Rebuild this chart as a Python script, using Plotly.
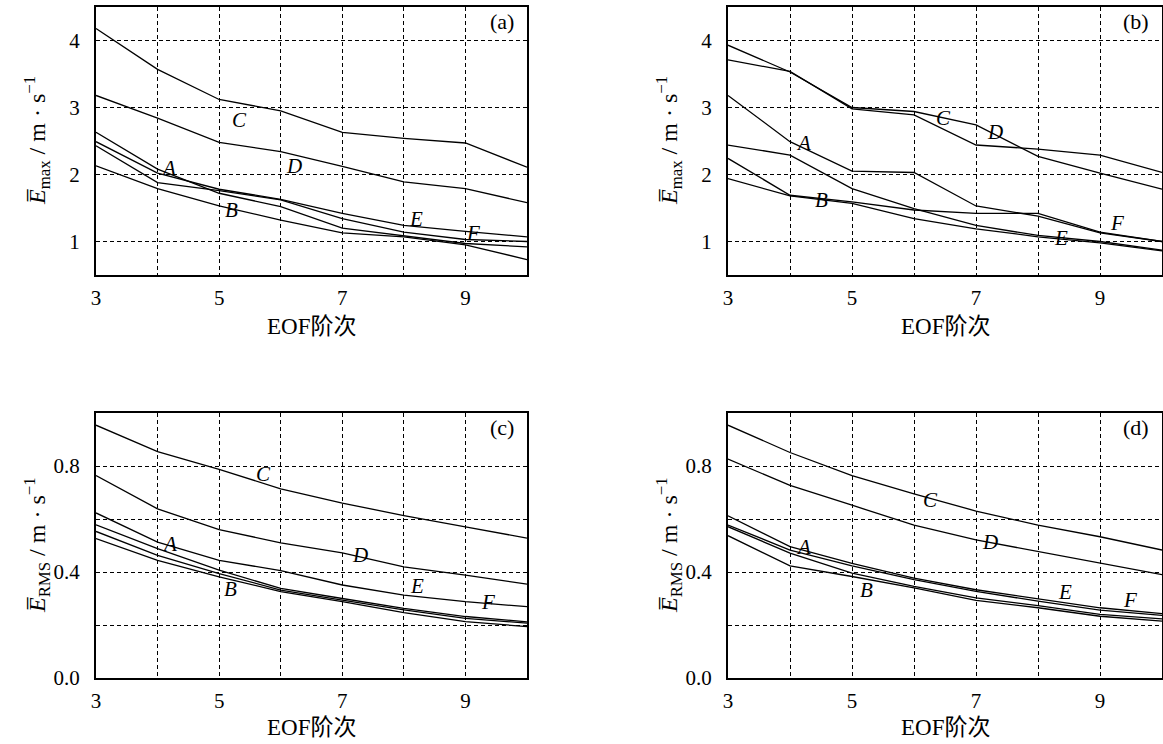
import plotly.graph_objects as go

orders = [3, 4, 5, 6, 7, 8, 9, 10]
x_tick_vals = [3, 5, 7, 9]
x_tick_text = ["3", "5", "7", "9"]
x_minor_vals = [4, 6, 8, 10]
ymax_tick_vals = [1, 2, 3, 4]
ymax_tick_text = ["1", "2", "3", "4"]
yrms_tick_vals = [0.0, 0.4, 0.8]
yrms_tick_text = ["0.0", "0.4", "0.8"]
yrms_minor_vals = [0.2, 0.6, 1.0]
curve_names = ["A", "B", "C", "D", "E", "F"]

# panel (a): mean maximum error
a_A = [2.63, 2.08, 1.72, 1.52, 1.20, 1.09, 0.97, 0.92]
a_B = [2.13, 1.79, 1.53, 1.32, 1.13, 1.07, 0.95, 0.73]
a_C = [4.18, 3.57, 3.12, 2.95, 2.63, 2.54, 2.47, 2.11]
a_D = [3.18, 2.84, 2.48, 2.34, 2.12, 1.89, 1.79, 1.58]
a_E = [2.49, 2.02, 1.78, 1.63, 1.42, 1.24, 1.15, 1.07]
a_F = [2.43, 1.88, 1.76, 1.62, 1.34, 1.14, 1.03, 1.00]

# panel (b): mean maximum error
b_A = [3.18, 2.49, 2.05, 2.03, 1.53, 1.38, 1.13, 1.00]
b_B = [1.94, 1.68, 1.57, 1.34, 1.19, 1.07, 0.98, 0.86]
b_C = [3.93, 3.53, 3.00, 2.94, 2.74, 2.27, 2.02, 1.78]
b_D = [3.71, 3.54, 2.98, 2.89, 2.44, 2.38, 2.29, 2.03]
b_E = [2.44, 2.29, 1.79, 1.49, 1.24, 1.09, 1.00, 0.87]
b_F = [2.24, 1.69, 1.59, 1.47, 1.42, 1.42, 1.14, 1.00]

# panel (c): mean RMS error
c_A = [0.578, 0.488, 0.407, 0.338, 0.300, 0.263, 0.232, 0.212]
c_B = [0.526, 0.444, 0.382, 0.326, 0.288, 0.247, 0.213, 0.194]
c_C = [0.954, 0.854, 0.787, 0.714, 0.660, 0.613, 0.570, 0.528]
c_D = [0.764, 0.638, 0.560, 0.510, 0.472, 0.419, 0.388, 0.354]
c_E = [0.623, 0.513, 0.444, 0.405, 0.351, 0.313, 0.288, 0.269]
c_F = [0.553, 0.463, 0.394, 0.332, 0.294, 0.257, 0.225, 0.207]

# panel (d): mean RMS error
d_A = [0.612, 0.496, 0.433, 0.377, 0.333, 0.298, 0.265, 0.243]
d_B = [0.537, 0.423, 0.383, 0.340, 0.293, 0.265, 0.233, 0.215]
d_C = [0.954, 0.851, 0.764, 0.695, 0.630, 0.577, 0.533, 0.483]
d_D = [0.826, 0.727, 0.652, 0.577, 0.521, 0.477, 0.433, 0.390]
d_E = [0.577, 0.483, 0.423, 0.371, 0.327, 0.290, 0.256, 0.236]
d_F = [0.571, 0.471, 0.396, 0.346, 0.302, 0.273, 0.240, 0.223]

# curve label positions (data coords) per panel
labels_a = {"A": (4.18, 2.10), "B": (5.2, 1.47), "C": (5.33, 2.82), "D": (6.22, 2.12), "E": (8.2, 1.34), "F": (9.12, 1.13)}
labels_b = {"A": (4.22, 2.47), "B": (4.5, 1.62), "C": (6.47, 2.84), "D": (7.31, 2.64), "E": (8.37, 1.05), "F": (9.27, 1.28)}
labels_c = {"A": (4.2, 0.505), "B": (5.18, 0.335), "C": (5.72, 0.77), "D": (7.29, 0.463), "E": (8.22, 0.347), "F": (9.36, 0.285)}
labels_d = {"A": (4.22, 0.496), "B": (5.23, 0.333), "C": (6.26, 0.673), "D": (7.22, 0.514), "E": (8.43, 0.323), "F": (9.49, 0.293)}

W, H = 1163, 744
FONT = "Liberation Serif, Noto Sans CJK SC, serif"
def px_x(p):
    return p / W
def px_y(p):
    return 1 - p / H

panels = [
    ("x", "y", [a_A, a_B, a_C, a_D, a_E, a_F], labels_a, "(a)"),
    ("x2", "y2", [b_A, b_B, b_C, b_D, b_E, b_F], labels_b, "(b)"),
    ("x3", "y3", [c_A, c_B, c_C, c_D, c_E, c_F], labels_c, "(c)"),
    ("x4", "y4", [d_A, d_B, d_C, d_D, d_E, d_F], labels_d, "(d)"),
]

fig = go.Figure()
annotations = []
for xa, ya, series, labels, tag in panels:
    for name, vals in zip(curve_names, series):
        fig.add_trace(go.Scatter(x=orders, y=vals, mode="lines", xaxis=xa, yaxis=ya,
                                 line=dict(color="black", width=1.3), showlegend=False,
                                 name=name))
    for name, (lx, ly) in labels.items():
        annotations.append(dict(x=lx, y=ly, xref=xa, yref=ya, text="<i>%s</i>" % name,
                                xanchor="center", yanchor="middle",
                                showarrow=False, font=dict(family=FONT, size=21, color="black")))
    annotations.append(dict(x=0.975, y=0.945, xref=xa + " domain", yref=ya + " domain",
                            text=tag, showarrow=False, xanchor="right", yanchor="middle",
                            font=dict(family=FONT, size=22, color="black")))

left_dom = [px_x(96), px_x(527)]
right_dom = [px_x(728), px_x(1162)]
top_dom = [px_y(275), px_y(7)]
bot_dom = [px_y(678), px_y(413)]

GRID = dict(showgrid=True, gridcolor="black", gridwidth=1, griddash="4px,3px")

def xax(domain, anchor):
    return dict(domain=domain, anchor=anchor, range=[3, 10], tickvals=x_tick_vals, ticktext=x_tick_text,
                minor=dict(tickvals=x_minor_vals, ticks="", **GRID), **GRID,
                showline=True, linecolor="black", linewidth=2, mirror=True, ticks="",
                zeroline=False, ticklabelstandoff=3, automargin=False,
                tickfont=dict(family=FONT, size=21, color="black"))

def yax(domain, anchor, rng, tv, tt, mv):
    d = dict(domain=domain, anchor=anchor, range=rng, tickvals=tv, ticktext=tt, **GRID,
             showline=True, linecolor="black", linewidth=2, mirror=True, ticks="",
             zeroline=False, ticklabelstandoff=10, automargin=False,
             tickfont=dict(family=FONT, size=21, color="black"))
    if mv:
        d["minor"] = dict(tickvals=mv, ticks="", **GRID)
    return d

fig.update_layout(
    width=W, height=H, margin=dict(l=0, r=0, t=0, b=0, autoexpand=False),
    paper_bgcolor="white", plot_bgcolor="white",
    xaxis=xax(left_dom, "y"), yaxis=yax(top_dom, "x", [0.5, 4.5], ymax_tick_vals, ymax_tick_text, None),
    xaxis2=xax(right_dom, "y2"), yaxis2=yax(top_dom, "x2", [0.5, 4.5], ymax_tick_vals, ymax_tick_text, None),
    xaxis3=xax(left_dom, "y3"), yaxis3=yax(bot_dom, "x3", [0, 1.0], yrms_tick_vals, yrms_tick_text, yrms_minor_vals),
    xaxis4=xax(right_dom, "y4"), yaxis4=yax(bot_dom, "x4", [0, 1.0], yrms_tick_vals, yrms_tick_text, yrms_minor_vals),
)

ymax_title = "<i>E\u0305</i><sub>max</sub> / m · s<sup>−1</sup>"
yrms_title = "<i>E\u0305</i><sub>RMS</sub> / m · s<sup>−1</sup>"
xtitle = "EOF阶次"
for cx, cy, txt in [(311, 327, xtitle), (945, 327, xtitle), (311, 727, xtitle), (945, 727, xtitle)]:
    annotations.append(dict(x=px_x(cx), y=px_y(cy), xref="paper", yref="paper", text=txt,
                            xanchor="center", yanchor="middle",
                            showarrow=False, font=dict(family=FONT, size=23, color="black")))
for cx, cy, txt in [(37, 141, ymax_title), (669, 141, ymax_title), (37, 545, yrms_title), (669, 545, yrms_title)]:
    annotations.append(dict(x=px_x(cx), y=px_y(cy), xref="paper", yref="paper", text=txt,
                            xanchor="center", yanchor="middle",
                            textangle=-90, showarrow=False, font=dict(family=FONT, size=24, color="black")))

fig.update_layout(annotations=annotations)
fig.write_html("out.html")
